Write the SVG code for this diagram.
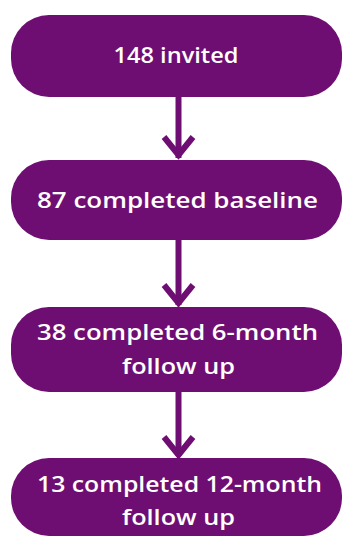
<svg xmlns="http://www.w3.org/2000/svg" width="343" height="540" viewBox="0 0 343 540">
<style>
.box{fill:#6e0e72}
.lbl{font-family:"Open Sans","DejaVu Sans","Liberation Sans",sans-serif;font-weight:600;font-size:22px;fill:#ffffff;text-anchor:middle}
.con{stroke:#6e0e72;stroke-width:6;fill:none}
.head{stroke:#6e0e72;stroke-width:6;fill:none;stroke-linecap:butt;stroke-linejoin:miter}
</style>
<rect width="343" height="540" fill="#ffffff"/>
<g id="connectors">
<line class="con" x1="178.5" y1="97" x2="178.5" y2="158"/>
<polyline class="head" points="164,137 178.5,155 193,137"/>
<line class="con" x1="178.5" y1="240" x2="178.5" y2="305"/>
<polyline class="head" points="164,285 178.5,303 193,285"/>
<line class="con" x1="178.5" y1="392" x2="178.5" y2="456"/>
<polyline class="head" points="164,437 178.5,455 193,437"/>
</g>
<g id="n1">
<rect class="box" x="11" y="15" width="331" height="82" rx="38"/>
<text class="lbl" x="176" y="63" textLength="125" lengthAdjust="spacingAndGlyphs">148 invited</text>
</g>
<g id="n2">
<rect class="box" x="11" y="160" width="331" height="80" rx="38"/>
<text class="lbl" x="177.5" y="208" textLength="281" lengthAdjust="spacingAndGlyphs">87 completed baseline</text>
</g>
<g id="n3">
<rect class="box" x="11" y="307" width="331" height="85" rx="38"/>
<text class="lbl" x="177.5" y="340" textLength="281" lengthAdjust="spacingAndGlyphs">38 completed 6-month</text>
<text class="lbl" x="178.5" y="374" textLength="113" lengthAdjust="spacingAndGlyphs">follow up</text>
</g>
<g id="n4">
<rect class="box" x="11" y="458" width="331" height="78" rx="38"/>
<text class="lbl" x="179.5" y="492" textLength="285" lengthAdjust="spacingAndGlyphs">13 completed 12-month</text>
<text class="lbl" x="178.5" y="525" textLength="113" lengthAdjust="spacingAndGlyphs">follow up</text>
</g>
</svg>
